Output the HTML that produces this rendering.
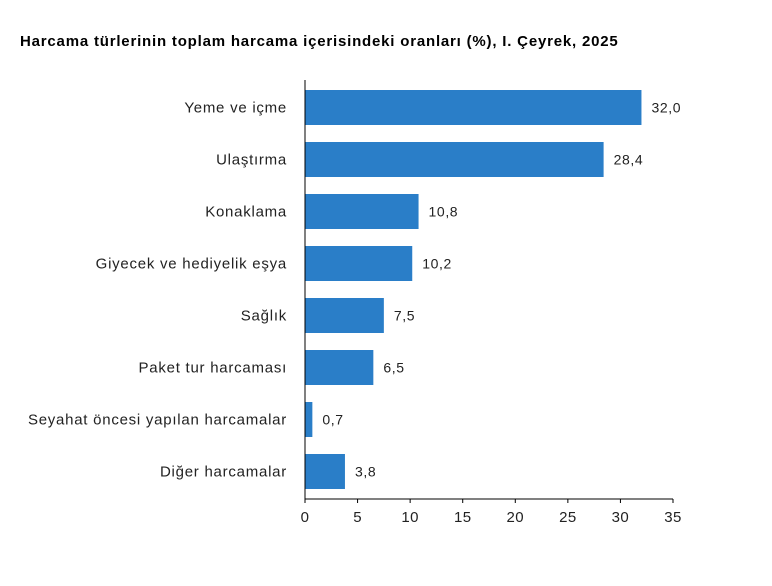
<!DOCTYPE html>
<html><head><meta charset="utf-8"><style>
body{margin:0;background:#fff;}
svg{display:block;font-family:"Liberation Sans",Arial,sans-serif;}
</style></head><body>
<svg width="772" height="586" viewBox="0 0 772 586" id="chart">
<text x="20" y="46" font-size="15" letter-spacing="0.8" font-weight="bold" fill="#000">Harcama türlerinin toplam harcama içerisindeki oranları (%), I. Çeyrek, 2025</text>
</svg>
<script>
const categories=["Yeme ve içme","Ulaştırma","Konaklama","Giyecek ve hediyelik eşya","Sağlık","Paket tur harcaması","Seyahat öncesi yapılan harcamalar","Diğer harcamalar"];
const values=[32.0,28.4,10.8,10.2,7.5,6.5,0.7,3.8];
const valueLabels=["32,0","28,4","10,8","10,2","7,5","6,5","0,7","3,8"];
const ticks=[0,5,10,15,20,25,30,35];
const NS="http://www.w3.org/2000/svg";
const svg=document.getElementById('chart');
const x0=305,x1=673,xMax=35,yTop=90,step=52,barH=35,axisY=499;
const xs=v=>x0+(v/xMax)*(x1-x0);
const yb=i=>yTop+i*step;
function mk(t,a){const e=document.createElementNS(NS,t);for(const k in a)e.setAttribute(k,a[k]);svg.appendChild(e);return e;}
categories.forEach((c,i)=>{
 const r=mk('rect',{x:x0,y:yb(i),width:xs(values[i])-x0,height:barH,fill:'#2a7ec8'});
 
 
 const l=mk('text',{x:287,y:yb(i)+barH/2+5,'font-size':15,'letter-spacing':0.75,'text-anchor':'end',fill:'#222'});
 l.textContent=c;
 
 
 const v=mk('text',{x:xs(values[i])+10,y:yb(i)+barH/2+5,'font-size':14,'letter-spacing':0.6,fill:'#222'});
 v.textContent=valueLabels[i];
 
 
});
const ya=mk('line',{x1:x0,y1:80,x2:x0,y2:axisY,stroke:'#000','stroke-width':1});


const xa=mk('line',{x1:x0,y1:axisY,x2:x1,y2:axisY,stroke:'#000','stroke-width':1});


ticks.forEach(t=>{
 const tk=mk('line',{x1:xs(t),y1:axisY,x2:xs(t),y2:axisY+4,stroke:'#000'});
 
 
 const tl=mk('text',{x:xs(t),y:522,'font-size':15,'letter-spacing':0.4,'text-anchor':'middle',fill:'#222'});
 tl.textContent=t;
 
 
});
</script>
</body></html>
